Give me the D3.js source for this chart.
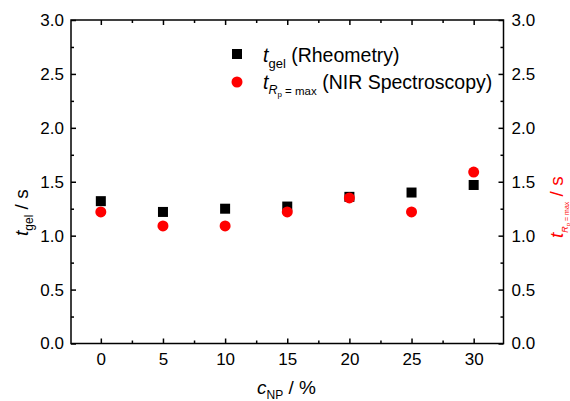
<!DOCTYPE html>
<html>
<head>
<meta charset="utf-8">
<script src="https://cdn.jsdelivr.net/npm/d3@7/dist/d3.min.js"></script>
<style>
  html, body { margin: 0; padding: 0; background: #fff; }
  svg { display: block; font-family: "Liberation Sans", Arial, sans-serif; }
</style>
</head>
<body>
<svg id="chart" width="570" height="401"></svg>
<script>
// Nanoparticle content (%)
const cNP = [0, 5, 10, 15, 20, 25, 30];
// Gel time from rheometry (s)
const tGelRheo = [1.32, 1.22, 1.25, 1.27, 1.36, 1.40, 1.47];
// Time of maximum polymerisation rate from NIR spectroscopy (s)
const tRpMaxNIR = [1.22, 1.09, 1.09, 1.22, 1.35, 1.22, 1.59];
// Axis ticks
const xTicks = [0, 5, 10, 15, 20, 25, 30];
const xMinor = [-2.5, 2.5, 7.5, 12.5, 17.5, 22.5, 27.5, 32.5];
const yTicks = [0, 0.5, 1.0, 1.5, 2.0, 2.5, 3.0];
const yMinor = [0.25, 0.75, 1.25, 1.75, 2.25, 2.75];

const svg = d3.select("#chart");
const plotL = 71, plotR = 503.5, plotT = 20, plotB = 343.5;

const x = d3.scaleLinear().domain([-2.4, 32.4]).range([plotL, plotR]);
const y = d3.scaleLinear().domain([0, 3]).range([plotB, plotT]);

const fmt = d3.format(".1f");
const tickFont = "17px";
const xMinorIn = xMinor.filter(v => x(v) > plotL && x(v) < plotR);

function styleAxis(g) {
  g.selectAll(".domain").remove();
  g.selectAll("line").attr("stroke", "#000").attr("stroke-width", 1.5);
  g.selectAll("text").attr("fill", "#000").style("font-size", tickFont)
    .style("font-family", '"Liberation Sans", Arial, sans-serif');
}

// Bottom axis
svg.append("g").attr("transform", `translate(0,${plotB})`)
  .call(d3.axisBottom(x).tickValues(xTicks).tickSize(-5).tickPadding(9).tickFormat(d3.format("d")))
  .call(styleAxis);
svg.append("g").attr("transform", `translate(0,${plotB})`)
  .call(d3.axisBottom(x).tickValues(xMinorIn).tickSize(-3).tickFormat(""))
  .call(styleAxis);
// Top axis
svg.append("g").attr("transform", `translate(0,${plotT})`)
  .call(d3.axisTop(x).tickValues(xTicks).tickSize(-5).tickFormat(""))
  .call(styleAxis);
svg.append("g").attr("transform", `translate(0,${plotT})`)
  .call(d3.axisTop(x).tickValues(xMinorIn).tickSize(-3).tickFormat(""))
  .call(styleAxis);
// Left axis
svg.append("g").attr("transform", `translate(${plotL},0)`)
  .call(d3.axisLeft(y).tickValues(yTicks).tickSize(-5).tickPadding(7).tickFormat(fmt))
  .call(styleAxis);
svg.append("g").attr("transform", `translate(${plotL},0)`)
  .call(d3.axisLeft(y).tickValues(yMinor).tickSize(-3).tickFormat(""))
  .call(styleAxis);
// Right axis
svg.append("g").attr("transform", `translate(${plotR},0)`)
  .call(d3.axisRight(y).tickValues(yTicks).tickSize(-5).tickPadding(8).tickFormat(fmt))
  .call(styleAxis);
svg.append("g").attr("transform", `translate(${plotR},0)`)
  .call(d3.axisRight(y).tickValues(yMinor).tickSize(-3).tickFormat(""))
  .call(styleAxis);

// Frame
svg.append("rect")
  .attr("x", plotL).attr("y", plotT)
  .attr("width", plotR - plotL).attr("height", plotB - plotT)
  .attr("fill", "none").attr("stroke", "#000").attr("stroke-width", 1.5);

// Rheometry: black squares
const sq = 10;
svg.append("g").selectAll("rect").data(cNP).join("rect")
  .attr("x", d => x(d) - sq / 2)
  .attr("y", (d, i) => y(tGelRheo[i]) - sq / 2)
  .attr("width", sq).attr("height", sq)
  .attr("fill", "#000");

// NIR: red circles
svg.append("g").selectAll("circle").data(cNP).join("circle")
  .attr("cx", d => x(d))
  .attr("cy", (d, i) => y(tRpMaxNIR[i]))
  .attr("r", 5.5)
  .attr("fill", "#ff0000");

// Legend
const lg = svg.append("g");
lg.append("rect").attr("x", 232).attr("y", 49).attr("width", sq).attr("height", sq).attr("fill", "#000");
lg.append("circle").attr("cx", 237).attr("cy", 82).attr("r", 5.5).attr("fill", "#ff0000");

const t1 = lg.append("text").attr("x", 263).attr("y", 62).style("font-size", "19.5px").attr("fill", "#000");
t1.append("tspan").style("font-style", "italic").text("t");
t1.append("tspan").attr("dy", 6).style("font-size", "13px").text("gel");
t1.append("tspan").attr("dy", -6).text(" (Rheometry)");

const t2 = lg.append("text").attr("x", 263).attr("y", 89).style("font-size", "19.5px").attr("fill", "#000");
t2.append("tspan").style("font-style", "italic").text("t");
t2.append("tspan").attr("dy", 5).style("font-size", "12.5px").style("font-style", "italic").text("R");
t2.append("tspan").attr("dy", 3).style("font-size", "8px").text("p");
t2.append("tspan").attr("dy", -2).style("font-size", "11.5px").text(" = max");
t2.append("tspan").attr("dy", -6).text(" (NIR Spectroscopy)");

// Axis titles
const xt = svg.append("text").attr("x", 257).attr("y", 394).style("font-size", "19px").attr("fill", "#000");
xt.append("tspan").style("font-style", "italic").text("c");
xt.append("tspan").attr("dy", 5).style("font-size", "12px").text("NP");
xt.append("tspan").attr("dy", -5).text(" / %");

const yl = svg.append("text").attr("transform", "translate(28,236) rotate(-90)")
  .style("font-size", "19px").attr("fill", "#000");
yl.append("tspan").style("font-style", "italic").text("t");
yl.append("tspan").attr("dy", 5).style("font-size", "12px").text("gel");
yl.append("tspan").attr("dy", -5).text(" / s");

const yr = svg.append("text").attr("transform", "translate(563,238) rotate(-90)")
  .style("font-size", "19px").attr("fill", "#ff0000");
yr.append("tspan").style("font-style", "italic").text("t");
yr.append("tspan").attr("dy", 5).style("font-size", "9px").style("font-style", "italic").text("R");
yr.append("tspan").attr("dy", 2).style("font-size", "6px").text("p");
yr.append("tspan").attr("dy", -1).style("font-size", "7px").text(" = max");
yr.append("tspan").attr("dy", -6).text(" / s");
</script>
</body>
</html>
